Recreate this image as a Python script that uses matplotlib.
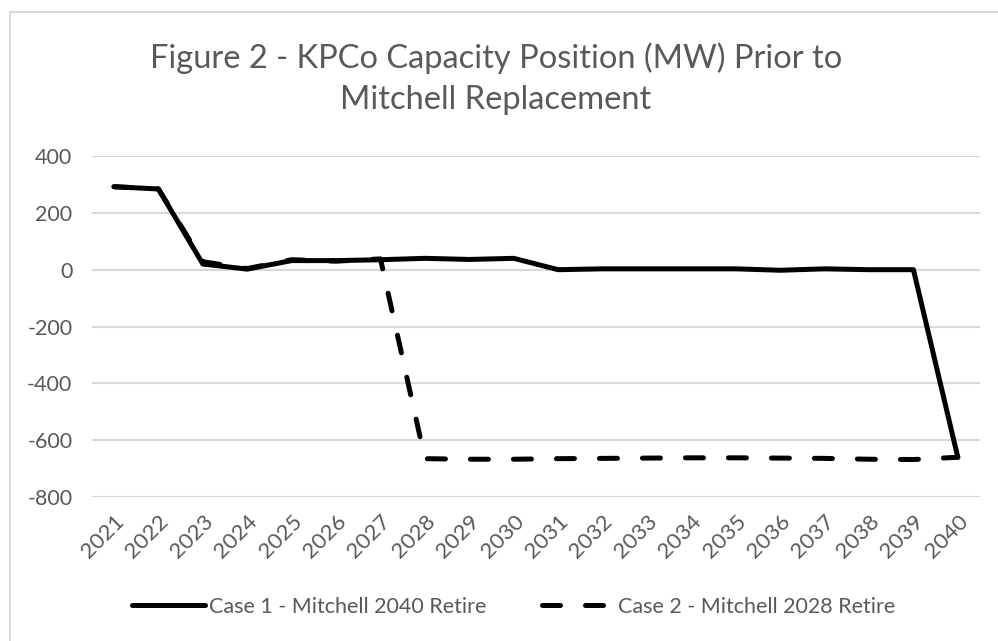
import matplotlib
matplotlib.use("Agg")
import matplotlib.pyplot as plt
from matplotlib.lines import Line2D

plt.rcParams['font.family'] = ['Lato', 'DejaVu Sans']

years = [str(y) for y in range(2021, 2041)]
case1 = [292, 284, 20, 2, 32, 32, 35, 40, 36, 40, 0, 3, 3, 3, 3, -2, 3, 0, 0, -660]
case2 = [292, 284, 28, 4, 35, 30, 38, -665, -667, -667, -665, -664, -663, -662, -662, -663, -664, -667, -668, -660]
yticks = [400, 200, 0, -200, -400, -600, -800]

title = "Figure 2 - KPCo Capacity Position (MW) Prior to\nMitchell Replacement"
label1 = "Case 1 - Mitchell 2040 Retire"
label2 = "Case 2 - Mitchell 2028 Retire"

TXT = "#595959"
GRID = "#d9d9d9"

fig = plt.figure(figsize=(9.98, 6.41), dpi=100)
ax = fig.add_axes([0.092, 0.2246, 0.89, 0.532])

x = list(range(len(years)))
ax.plot(x, case1, color="black", lw=3.6, solid_capstyle="round", solid_joinstyle="round",
        label=label1, zorder=3)
ax.plot(x, case2, color="black", lw=3.6, dashes=(3.6, 5.0), dash_capstyle="round",
        dash_joinstyle="round", label=label2, zorder=4)

ax.set_xlim(-0.5, len(years) - 0.5)
ax.set_ylim(-800, 400)
ax.set_yticks(yticks)
ax.set_yticklabels([str(v) for v in yticks], color=TXT, fontsize=15.5)
ax.set_xticks(x)
ax.set_xticklabels(years, rotation=45, ha="right", rotation_mode="anchor",
                   color=TXT, fontsize=16)
ax.tick_params(axis="both", length=0)
ax.tick_params(axis="y", pad=14)
ax.tick_params(axis="x", pad=10)
ax.grid(axis="y", color=GRID, lw=1.5)
ax.set_axisbelow(True)
for s in ax.spines.values():
    s.set_visible(False)

fig.text(0.497, 0.877, title, ha="center", va="center", fontsize=23.5,
         color=TXT, linespacing=1.45)

leg = fig.legend(loc="center", bbox_to_anchor=(0.515, 0.053), ncol=2, frameon=False,
                 fontsize=15.5, handlelength=3.4, columnspacing=2.6, handletextpad=0.15)
for t in leg.get_texts():
    t.set_color(TXT)

# chart area border (left and top visible)
fig.add_artist(Line2D([0.010, 0.010], [0.0, 1 - 12 / 641], transform=fig.transFigure,
                      color=GRID, lw=1.5))
fig.add_artist(Line2D([0.010, 1.0], [1 - 12 / 641, 1 - 12 / 641], transform=fig.transFigure,
                      color=GRID, lw=1.5))

fig.savefig("out.png", dpi=100)
